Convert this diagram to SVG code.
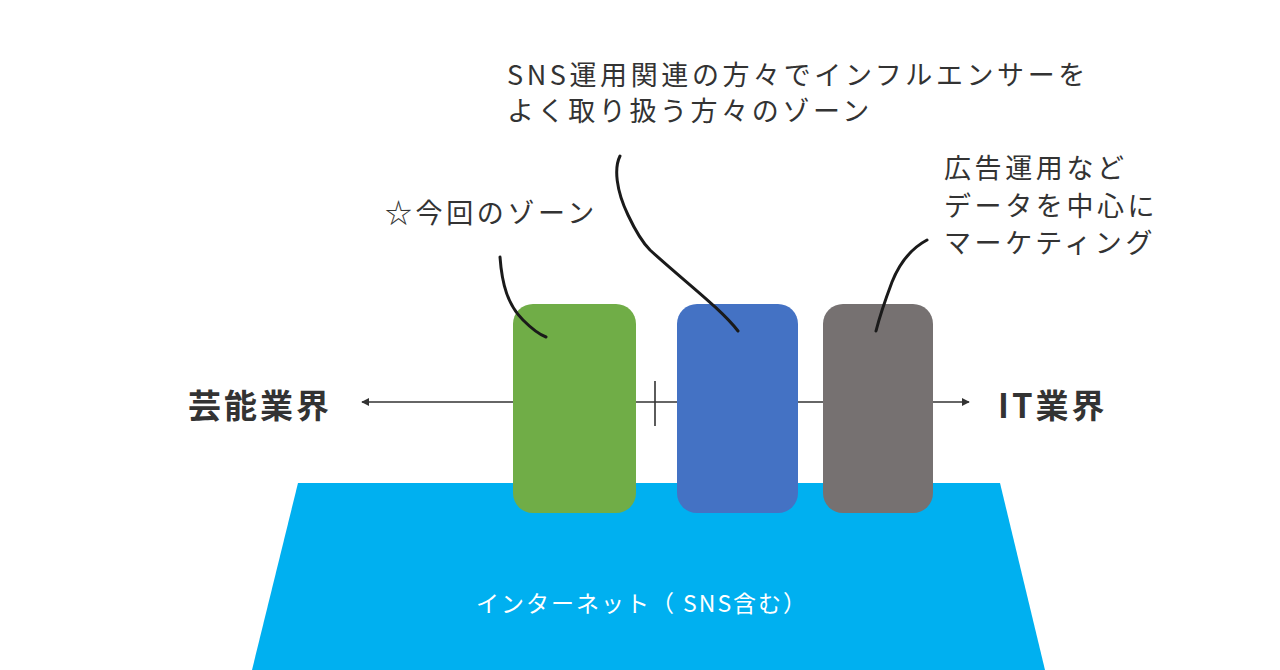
<svg xmlns="http://www.w3.org/2000/svg" width="1280" height="670" viewBox="0 0 1280 670">
<style>
.t{font-family:"Noto Sans CJK JP","Noto Sans",sans-serif;fill:#333333;font-size:27px;letter-spacing:3.6px}
.b{font-family:"Noto Sans CJK JP","Noto Sans",sans-serif;fill:#333333;font-size:33px;font-weight:bold;letter-spacing:3px}
.w{font-family:"Noto Sans CJK JP","Noto Sans",sans-serif;fill:#ffffff;font-size:23px;letter-spacing:2px}
.c{fill:none;stroke:#1a1a1a;stroke-width:3;stroke-linecap:round}
</style>
<defs>
<marker id="ah" viewBox="0 0 10 10" refX="9" refY="5" markerWidth="8" markerHeight="8" markerUnits="userSpaceOnUse" orient="auto-start-reverse">
<path d="M0,0 L10,5 L0,10 z" fill="#333333"/>
</marker>
</defs>
<rect width="1280" height="670" fill="#ffffff"/>
<g id="internet">
<polygon points="298,483 1000,483 1045,670 252,670" fill="#00B0F0"/>
<text class="w" x="642" y="612" text-anchor="middle">インターネット（ SNS含む）</text>
</g>
<g id="connectors">
<line x1="362" y1="402" x2="969" y2="402" stroke="#333333" stroke-width="1.6" marker-start="url(#ah)" marker-end="url(#ah)"/>
<line x1="655" y1="381" x2="655" y2="426" stroke="#333333" stroke-width="1.6"/>
</g>
<g id="green">
<rect x="513" y="304" width="123" height="209" rx="20" fill="#70AD47"/>
</g>
<g id="blue">
<rect x="677" y="304" width="121" height="209" rx="20" fill="#4472C4"/>
</g>
<g id="gray">
<rect x="823" y="304" width="110" height="209" rx="20" fill="#767171"/>
</g>
<g id="curves">
<path class="c" d="M500,257 C502,285 508,305 523,320 C532,329 538,334 546,337"/>
<path class="c" d="M620,156 C614,168 616,190 628,215 C636,232 642,242 650,250 C685,282 720,308 738,331"/>
<path class="c" d="M927,240 C912,248 900,262 892,282 C886,298 880,315 876,331"/>
</g>
<g id="label-left">
<text class="b" x="188" y="418">芸能業界</text>
</g>
<g id="label-right">
<text class="b" x="998" y="418">IT業界</text>
</g>
<g id="label-sns">
<text class="t" x="507" y="85">SNS運用関連の方々でインフルエンサーを</text>
<text class="t" x="507" y="121">よく取り扱う方々のゾーン</text>
</g>
<g id="label-zone">
<text class="t" x="385" y="223">☆今回のゾーン</text>
</g>
<g id="label-data">
<text class="t" x="944" y="178">広告運用など</text>
<text class="t" x="944" y="216">データを中心に</text>
<text class="t" x="944" y="253">マーケティング</text>
</g>
</svg>
